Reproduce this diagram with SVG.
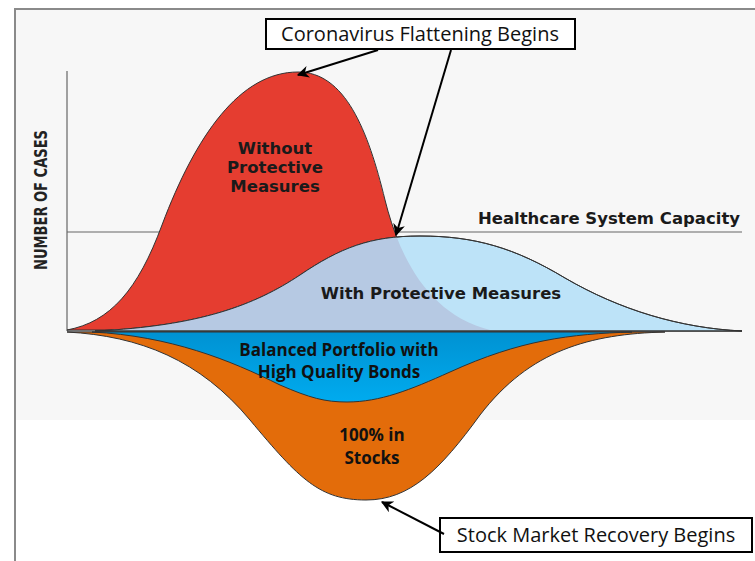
<svg xmlns="http://www.w3.org/2000/svg" width="755" height="561" viewBox="0 0 755 561">
  <style>
    .lbl { font-family: "DejaVu Sans", "Liberation Sans", sans-serif; font-weight: bold; font-size: 16.5px; fill: #1a1a1a; text-anchor: middle; }
    .cal { font-family: "Open Sans", "Liberation Sans", sans-serif; font-weight: bold; font-size: 17px; fill: #111; text-anchor: middle; }
    .box { fill: #ffffff; stroke: #000; stroke-width: 2; }
    .boxtxt { font-family: "Open Sans", "Liberation Sans", sans-serif; font-size: 20px; fill: #111; text-anchor: middle; }
    .curve { stroke: #333; stroke-width: 1; }
    .conn { stroke: #000; stroke-width: 2; fill: none; marker-end: url(#arrow); }
  </style>
  <defs>
    <marker id="arrow" viewBox="0 0 10 10" refX="9" refY="5" markerWidth="6" markerHeight="6" orient="auto">
      <path d="M0,0 L10,5 L0,10 L3,5 Z" fill="#000"/>
    </marker>
    <linearGradient id="bondFill" x1="0" y1="0" x2="0" y2="1">
      <stop offset="0" stop-color="#0092d2"/>
      <stop offset="1" stop-color="#00abef"/>
    </linearGradient>
    <path id="blueCurve" d="M95,331 C200,326 255,305 300,275 C340,248 370,236 420,236 C475,236 515,248 565,278 C620,310 680,328 742,331 Z"/>
    <clipPath id="blueClip"><use href="#blueCurve"/></clipPath>
  </defs>

  <!-- page frame and chart background -->
  <rect x="15" y="9" width="740" height="411" fill="#f7f7f7"/>
  <path d="M15,561 L15,9 L755,9" fill="none" stroke="#8a8a8a" stroke-width="2"/>

  <!-- axes and capacity line -->
  <g id="axes" stroke="#666" stroke-width="1.2">
    <line x1="67" y1="71" x2="67" y2="331"/>
    <line x1="67" y1="232" x2="742" y2="232"/>
    <line x1="67" y1="331" x2="742" y2="331"/>
  </g>
  <text x="47" y="200" transform="rotate(-90 47 200)" font-family="DejaVu Sans Condensed, DejaVu Sans, sans-serif" font-weight="bold" font-size="18" textLength="140" lengthAdjust="spacingAndGlyphs" fill="#222" text-anchor="middle">NUMBER OF CASES</text>
  <text id="capacity" class="lbl" x="609" y="224">Healthcare System Capacity</text>

  <!-- lower curves: portfolio drawdowns -->
  <g id="stocks">
    <path class="curve" fill="#e36c0a" d="M67,332 C140,336 200,360 250,420 C300,480 320,500 366,500 C410,500 440,470 480,415 C530,350 590,334 665,332 Z"/>
    <text class="cal" x="372" y="441">100% in</text>
    <text class="cal" x="372" y="464">Stocks</text>
  </g>
  <g id="bonds">
    <path class="curve" fill="url(#bondFill)" d="M92,332 C170,336 230,360 280,385 C310,398 325,402 347,402 C380,402 410,390 450,372 C520,340 570,334 632,332 Z"/>
    <text class="cal" x="339" y="356">Balanced Portfolio with</text>
    <text class="cal" x="339" y="378">High Quality Bonds</text>
  </g>

  <!-- upper curves: case counts -->
  <g id="without">
    <path id="redCurve" class="curve" fill="#e53d30" d="M67,330 C110,322 138,290 162,225 C196,135 240,72 298,72 C345,72 368,130 385,200 C400,260 430,315 490,330 Z"/>
    <text class="lbl" x="275" y="154">Without</text>
    <text class="lbl" x="275" y="173">Protective</text>
    <text class="lbl" x="275" y="192">Measures</text>
  </g>
  <g id="with">
    <use href="#blueCurve" fill="#bde3f8" class="curve"/>
    <path clip-path="url(#blueClip)" fill="#b6c9e3" d="M67,330 C110,322 138,290 162,225 C196,135 240,72 298,72 C345,72 368,130 385,200 C400,260 430,315 490,330 Z"/>
    <use href="#blueCurve" fill="none" class="curve"/>
    <text class="lbl" x="441" y="299">With Protective Measures</text>
  </g>

  <!-- callout boxes -->
  <g id="flattening">
    <rect class="box" x="266" y="19" width="309" height="30"/>
    <text class="boxtxt" x="420" y="41">Coronavirus Flattening Begins</text>
  </g>
  <g id="recovery">
    <rect class="box" x="440" y="518" width="312" height="34"/>
    <text class="boxtxt" x="596" y="542">Stock Market Recovery Begins</text>
  </g>

  <!-- connectors -->
  <g id="connectors">
    <line class="conn" x1="378" y1="50" x2="298" y2="75"/>
    <line class="conn" x1="451" y1="50" x2="396" y2="235"/>
    <line class="conn" x1="444" y1="534" x2="382" y2="502"/>
  </g>
</svg>
